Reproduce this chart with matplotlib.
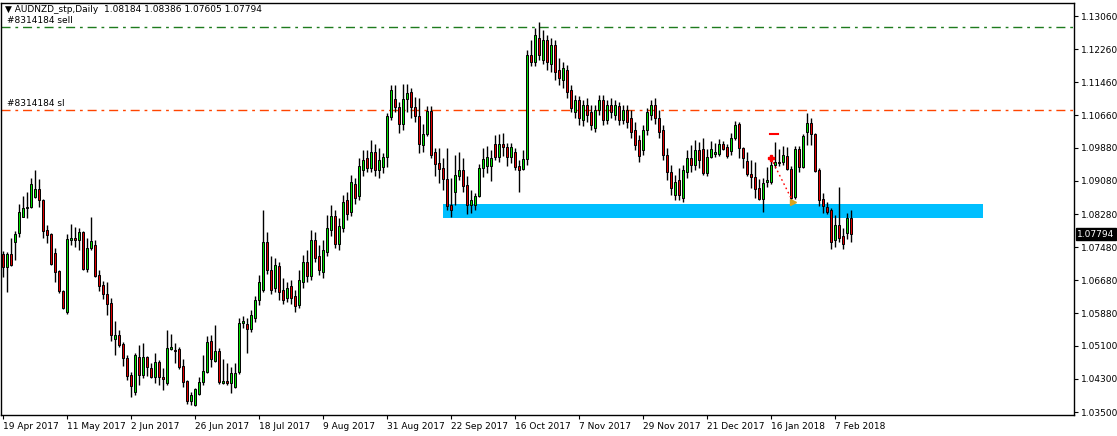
import matplotlib
matplotlib.use("AGG")
import matplotlib.pyplot as plt
import numpy as np

# daily OHLC (19 Apr 2017 .. 13 Feb 2018)
opens = [
    1.0731, 1.0700, 1.0731, 1.0760, 1.0782, 1.0821, 1.0843, 1.0845, 1.0869, 1.0888,
    1.0862, 1.0789, 1.0780, 1.0734, 1.0690, 1.0642, 1.0592, 1.0765, 1.0770, 1.0765,
    1.0785, 1.0695, 1.0746, 1.0753, 1.0681, 1.0657, 1.0635, 1.0613, 1.0526, 1.0536,
    1.0514, 1.0480, 1.0439, 1.0398, 1.0483, 1.0439, 1.0483, 1.0456, 1.0434, 1.0471,
    1.0434, 1.0420, 1.0502, 1.0500, 1.0502, 1.0461, 1.0425, 1.0377, 1.0367, 1.0393,
    1.0422, 1.0447, 1.0521, 1.0473, 1.0497, 1.0420, 1.0425, 1.0420, 1.0410, 1.0447,
    1.0565, 1.0563, 1.0551, 1.0577, 1.0620, 1.0645, 1.0760, 1.0693, 1.0649, 1.0703,
    1.0645, 1.0625, 1.0654, 1.0630, 1.0608, 1.0664, 1.0712, 1.0678, 1.0765, 1.0727,
    1.0688, 1.0736, 1.0789, 1.0823, 1.0756, 1.0794, 1.0862, 1.0833, 1.0900, 1.0871,
    1.0934, 1.0963, 1.0939, 1.0978, 1.0934, 1.0941, 1.0966, 1.1062, 1.1106, 1.1086,
    1.1045, 1.1106, 1.1122, 1.1086, 1.1065, 1.0995, 1.1021, 1.1077, 1.0978, 1.0951,
    1.0939, 1.0912, 1.0850, 1.0881, 1.0920, 1.0934, 1.0898, 1.0850, 1.0850, 1.0871,
    1.0939, 1.0944, 1.0944, 1.0997, 1.0966, 1.0997, 1.0990, 1.0966, 1.0978, 1.0944,
    1.0937, 1.0961, 1.1212, 1.1195, 1.1253, 1.1200, 1.1248, 1.1190, 1.1236, 1.1176,
    1.1151, 1.1176, 1.1127, 1.1074, 1.1103, 1.1055, 1.1091, 1.1074, 1.1036, 1.1079,
    1.1103, 1.1055, 1.1091, 1.1067, 1.1089, 1.1055, 1.1079, 1.1060, 1.1031, 1.1007,
    1.0983, 1.1031, 1.1067, 1.1091, 1.1060, 1.1031, 1.0970, 1.0929, 1.0874, 1.0910,
    1.0867, 1.0929, 1.0963, 1.0946, 1.0983, 1.0985, 1.0927, 1.0966, 1.0973, 1.0973,
    1.0997, 1.0990, 1.0981, 1.1012, 1.1045, 1.0987, 1.0956, 1.0925, 1.0917, 1.0891,
    1.0864, 1.0905, 1.0905, 1.0946, 1.0953, 1.0953, 1.0968, 1.0937, 1.0869, 1.0985,
    1.0941, 1.1026, 1.1048, 1.1021, 1.0934, 1.0864, 1.0845, 1.0838, 1.0765, 1.0801,
    1.0775, 1.0782, 1.08184]
highs = [
    1.0739, 1.0736, 1.0770, 1.0787, 1.0852, 1.0871, 1.0881, 1.0915, 1.0934, 1.0913,
    1.0864, 1.0801, 1.0782, 1.0746, 1.0693, 1.0645, 1.0780, 1.0804, 1.0797, 1.0794,
    1.0787, 1.0770, 1.0821, 1.0765, 1.0693, 1.0666, 1.0664, 1.0625, 1.0570, 1.0548,
    1.0519, 1.0488, 1.0447, 1.0492, 1.0512, 1.0517, 1.0485, 1.0468, 1.0492, 1.0476,
    1.0456, 1.0548, 1.0538, 1.0517, 1.0507, 1.0478, 1.0427, 1.0398, 1.0408, 1.0434,
    1.0488, 1.0534, 1.0536, 1.0560, 1.0505, 1.0478, 1.0468, 1.0459, 1.0468, 1.0577,
    1.0582, 1.0577, 1.0596, 1.0630, 1.0681, 1.0838, 1.0785, 1.0727, 1.0722, 1.0712,
    1.0674, 1.0664, 1.0669, 1.0645, 1.0693, 1.0729, 1.0741, 1.0789, 1.0785, 1.0753,
    1.0765, 1.0826, 1.0850, 1.0838, 1.0818, 1.0874, 1.0881, 1.0922, 1.0915, 1.0963,
    1.0983, 1.0983, 1.1007, 1.0997, 1.0988, 1.0975, 1.1072, 1.1139, 1.1139, 1.1098,
    1.1142, 1.1142, 1.1132, 1.1110, 1.1108, 1.1045, 1.1089, 1.1089, 1.0987, 1.0987,
    1.0963, 1.0987, 1.0915, 1.0970, 1.0978, 1.0963, 1.0920, 1.0886, 1.0879, 1.0949,
    1.0987, 1.0992, 1.0983, 1.1019, 1.1021, 1.1024, 1.1000, 1.1000, 1.0987, 1.0958,
    1.0983, 1.1224, 1.1248, 1.1277, 1.1292, 1.1272, 1.1260, 1.1253, 1.1248, 1.1205,
    1.1195, 1.1188, 1.1139, 1.1115, 1.1113, 1.1103, 1.1108, 1.1091, 1.1091, 1.1115,
    1.1115, 1.1103, 1.1108, 1.1103, 1.1098, 1.1091, 1.1091, 1.1079, 1.1050, 1.1019,
    1.1043, 1.1084, 1.1103, 1.1108, 1.1079, 1.1043, 1.0987, 1.0946, 1.0922, 1.0939,
    1.0946, 1.0983, 1.0995, 1.1007, 1.1002, 1.1012, 1.0985, 1.1004, 1.1000, 1.1009,
    1.1004, 1.0997, 1.1024, 1.1053, 1.1050, 1.0990, 1.0978, 1.0958, 1.0954, 1.0913,
    1.0915, 1.0941, 1.0970, 1.1002, 1.0985, 1.0992, 1.0990, 1.0944, 1.0992, 1.0992,
    1.1021, 1.1072, 1.1060, 1.1024, 1.0939, 1.0879, 1.0857, 1.0843, 1.0826, 1.0893,
    1.0794, 1.0830, 1.08386]
lows = [
    1.0676, 1.0640, 1.0702, 1.0717, 1.0772, 1.0821, 1.0818, 1.0843, 1.0867, 1.0845,
    1.0770, 1.0758, 1.0705, 1.0664, 1.0637, 1.0599, 1.0587, 1.0753, 1.0748, 1.0741,
    1.0693, 1.0688, 1.0741, 1.0676, 1.0642, 1.0623, 1.0584, 1.0521, 1.0488, 1.0507,
    1.0461, 1.0427, 1.0386, 1.0391, 1.0415, 1.0432, 1.0437, 1.0432, 1.0420, 1.0415,
    1.0403, 1.0415, 1.0500, 1.0468, 1.0454, 1.0410, 1.0369, 1.0367, 1.0365, 1.0391,
    1.0415, 1.0444, 1.0459, 1.0471, 1.0418, 1.0418, 1.0415, 1.0396, 1.0408, 1.0442,
    1.0553, 1.0492, 1.0543, 1.0567, 1.0608, 1.0640, 1.0683, 1.0635, 1.0640, 1.0620,
    1.0611, 1.0616, 1.0611, 1.0592, 1.0601, 1.0650, 1.0664, 1.0669, 1.0712, 1.0681,
    1.0674, 1.0727, 1.0775, 1.0746, 1.0741, 1.0785, 1.0814, 1.0823, 1.0852, 1.0862,
    1.0920, 1.0929, 1.0929, 1.0920, 1.0915, 1.0927, 1.0941, 1.1055, 1.1074, 1.1024,
    1.1031, 1.1074, 1.1060, 1.1050, 1.0975, 1.0978, 1.1017, 1.0963, 1.0920, 1.0903,
    1.0886, 1.0838, 1.0821, 1.0850, 1.0910, 1.0881, 1.0828, 1.0830, 1.0838, 1.0869,
    1.0917, 1.0927, 1.0908, 1.0958, 1.0954, 1.0968, 1.0944, 1.0951, 1.0934, 1.0881,
    1.0934, 1.0946, 1.1185, 1.1185, 1.1200, 1.1190, 1.1176, 1.1171, 1.1151, 1.1139,
    1.1132, 1.1108, 1.1074, 1.1060, 1.1043, 1.1041, 1.1050, 1.1031, 1.1026, 1.1067,
    1.1043, 1.1045, 1.1060, 1.1055, 1.1043, 1.1045, 1.1036, 1.1012, 1.0983, 1.0954,
    1.0970, 1.1019, 1.1055, 1.1045, 1.1012, 1.0958, 1.0910, 1.0874, 1.0862, 1.0862,
    1.0857, 1.0915, 1.0929, 1.0934, 1.0939, 1.0922, 1.0920, 1.0963, 1.0966, 1.0968,
    1.0983, 1.0963, 1.0971, 1.1007, 1.0963, 1.0939, 1.0920, 1.0891, 1.0867, 1.0862,
    1.0833, 1.0893, 1.0900, 1.0939, 1.0944, 1.0946, 1.0934, 1.0855, 1.0864, 1.0929,
    1.0939, 1.0995, 1.0995, 1.0929, 1.0848, 1.0830, 1.0828, 1.0744, 1.0748, 1.0760,
    1.0744, 1.0768, 1.07605]
closes = [
    1.0700, 1.0731, 1.0705, 1.0780, 1.0833, 1.0843, 1.0846, 1.0900, 1.0888, 1.0862,
    1.0787, 1.0777, 1.0707, 1.0688, 1.0642, 1.0601, 1.0768, 1.0770, 1.0765, 1.0785,
    1.0695, 1.0746, 1.0763, 1.0678, 1.0654, 1.0635, 1.0611, 1.0536, 1.0536, 1.0512,
    1.0480, 1.0437, 1.0413, 1.0488, 1.0439, 1.0483, 1.0459, 1.0434, 1.0471, 1.0434,
    1.0430, 1.0505, 1.0507, 1.0497, 1.0459, 1.0422, 1.0377, 1.0391, 1.0405, 1.0422,
    1.0449, 1.0519, 1.0478, 1.0497, 1.0422, 1.0425, 1.0420, 1.0444, 1.0444, 1.0565,
    1.0570, 1.0551, 1.0584, 1.0620, 1.0664, 1.0760, 1.0693, 1.0645, 1.0705, 1.0640,
    1.0620, 1.0649, 1.0625, 1.0606, 1.0669, 1.0712, 1.0678, 1.0765, 1.0722, 1.0693,
    1.0741, 1.0794, 1.0823, 1.0756, 1.0799, 1.0857, 1.0828, 1.0905, 1.0867, 1.0944,
    1.0958, 1.0939, 1.0978, 1.0934, 1.0958, 1.0966, 1.1065, 1.1127, 1.1086, 1.1045,
    1.1106, 1.1120, 1.1086, 1.1065, 1.0998, 1.1021, 1.1077, 1.0970, 1.0949, 1.0937,
    1.0912, 1.0847, 1.0838, 1.0922, 1.0934, 1.0896, 1.0850, 1.0862, 1.0871, 1.0939,
    1.0961, 1.0966, 1.0963, 1.0966, 1.0997, 1.0990, 1.0966, 1.0990, 1.0941, 1.0934,
    1.0961, 1.1212, 1.1195, 1.1260, 1.1212, 1.1248, 1.1195, 1.1236, 1.1171, 1.1156,
    1.1180, 1.1122, 1.1084, 1.1103, 1.1060, 1.1091, 1.1067, 1.1043, 1.1079, 1.1103,
    1.1055, 1.1091, 1.1074, 1.1091, 1.1055, 1.1079, 1.1050, 1.1026, 1.0995, 1.0968,
    1.1031, 1.1074, 1.1091, 1.1060, 1.1026, 1.0970, 1.0929, 1.0891, 1.0905, 1.0874,
    1.0934, 1.0963, 1.0946, 1.0983, 1.0958, 1.0927, 1.0966, 1.0985, 1.0978, 1.0997,
    1.0985, 1.0968, 1.1012, 1.1043, 1.0987, 1.0963, 1.0925, 1.0917, 1.0888, 1.0864,
    1.0903, 1.0910, 1.0946, 1.0953, 1.0951, 1.0970, 1.0937, 1.0867, 1.0985, 1.0941,
    1.1017, 1.1048, 1.1021, 1.0932, 1.0862, 1.0847, 1.0833, 1.0760, 1.0801, 1.0770,
    1.0756, 1.0818, 1.07794]

date_labels = ['19 Apr 2017', '11 May 2017', '2 Jun 2017', '26 Jun 2017', '18 Jul 2017',
               '9 Aug 2017', '31 Aug 2017', '22 Sep 2017', '16 Oct 2017', '7 Nov 2017',
               '29 Nov 2017', '21 Dec 2017', '16 Jan 2018', '7 Feb 2018']
label_step = 16
price_ticks = [1.13060, 1.12260, 1.11460, 1.10660, 1.09880, 1.09080, 1.08280,
               1.07480, 1.06680, 1.05880, 1.05100, 1.04300, 1.03500]

sell_price = 1.12794
sl_price = 1.10791
zone_bars = (110, 245)
zone_prices = (1.0818, 1.0852)
trade_open = (192, 1.0963)
trade_close = (197.5, 1.0857)
trade_mark = 1.1021

o = np.array(opens); h = np.array(highs); l = np.array(lows); c = np.array(closes)
idx = np.arange(len(o))
up = c >= o

fig = plt.figure(figsize=(11.17, 4.36), dpi=100)
ax = fig.add_axes([1/1117, 21/436, 1073/1117, 412/436])
font = 'DejaVu Sans'

ax.set_xlim(-0.5, 267.75)
ax.set_ylim(1.03428, 1.13374)

# support zone
ax.fill_between(zone_bars, zone_prices[0], zone_prices[1], color='#00bfff', lw=0, zorder=1)

# order lines + their labels (labels sit at the left edge of the chart)
ax.axhline(sell_price, color='#1e7b1e', lw=1, dashes=(6.5, 3.5, 2, 3.5), zorder=1)
ax.axhline(sl_price, color='#ff4500', lw=1, dashes=(6.5, 3.5, 2, 3.5), zorder=1)
ytr = ax.get_yaxis_transform()
ax.text(0.006, sell_price + 0.0005, '#8314184 sell', fontsize=6.5, family=font,
        va='bottom', transform=ytr)
ax.text(0.006, sl_price + 0.0005, '#8314184 sl', fontsize=6.5, family=font,
        va='bottom', transform=ytr)

# candles
ax.vlines(idx, l, h, color='black', lw=1.0, zorder=2)
body_lo = np.minimum(o, c)
body_h = np.maximum(np.abs(c - o), 0.00006)
ax.bar(idx[up], body_h[up], bottom=body_lo[up], width=0.62, color='#00e000',
       edgecolor='black', lw=0.7, zorder=3)
ax.bar(idx[~up], body_h[~up], bottom=body_lo[~up], width=0.62, color='#e00000',
       edgecolor='black', lw=0.7, zorder=3)

# trade markers
ax.plot([trade_open[0], trade_close[0]], [trade_open[1], trade_close[1]], color='red',
        lw=1, ls=(0, (1.2, 2.2)), zorder=4)
ax.plot(trade_open[0], trade_open[1], marker='P', color='red', ms=5, zorder=5)
ax.plot(trade_close[0], trade_close[1], marker='>', color='#daa520', ms=4, zorder=5)
ax.plot([trade_open[0] - 0.3, trade_open[0] + 1.7], [trade_mark, trade_mark],
        color='red', lw=1.5, zorder=4)

# axes styling
ax.yaxis.tick_right()
ax.set_yticks(price_ticks)
ax.set_yticklabels(['%.5f' % p for p in price_ticks], fontsize=6.5, family=font)
ax.tick_params(axis='y', direction='out', length=3, width=0.8, pad=2)
ax.set_xticks(idx[::label_step][:len(date_labels)])
ax.set_xticklabels(date_labels, fontsize=6.5, family=font, ha='left')
ax.tick_params(axis='x', direction='out', length=3, width=0.8, pad=2)
for sp in ax.spines.values():
    sp.set_color('black'); sp.set_linewidth(1)

# current price box
ax.text(1.003, closes[-1], '%.5f' % closes[-1], transform=ytr,
        fontsize=6.5, family=font, color='white', va='center', ha='left',
        bbox=dict(boxstyle='square,pad=0.15', fc='black', ec='black'), zorder=6)

fig.text(5/1117, 1 - 10/436, '\u25bc AUDNZD_stp,Daily  1.08184 1.08386 1.07605 1.07794',
         fontsize=6.5, family=font, va='center')

fig.savefig('out.png', dpi=100)
